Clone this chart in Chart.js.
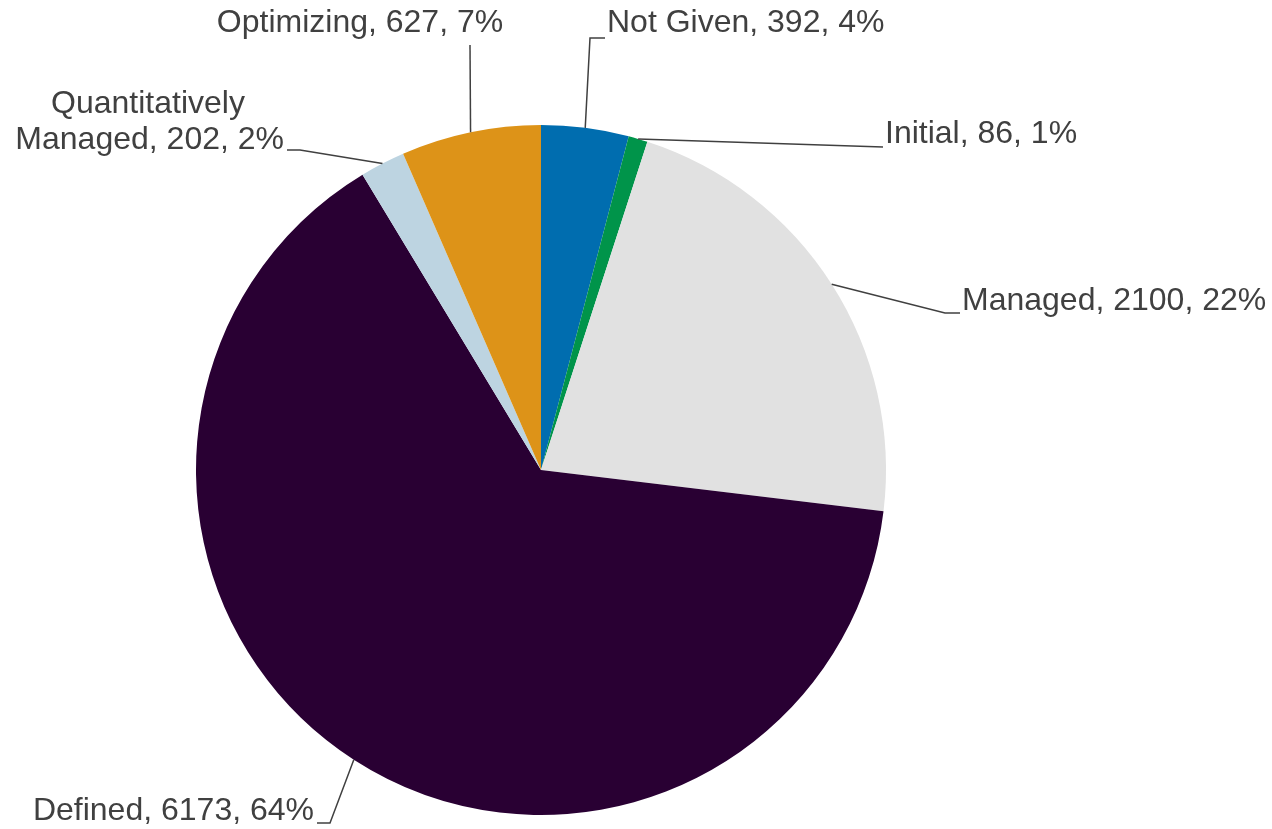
<!DOCTYPE html>
<html>
<head>
<meta charset="utf-8">
<script src="https://cdn.jsdelivr.net/npm/chart.js@4/dist/chart.umd.min.js"></script>
<style>
html,body{margin:0;padding:0;background:#fff;}
#wrap{width:1272px;height:829px;position:relative;}
</style>
</head>
<body>
<div id="wrap"><canvas id="c" width="1272" height="829"></canvas></div>
<script>
const categories = ["Not Given", "Initial", "Managed", "Defined", "Quantitatively Managed", "Optimizing"];
const values = [392, 86, 2100, 6173, 202, 627];
const percents = ["4%", "1%", "22%", "64%", "2%", "7%"];
const colors = ["#006DAF", "#00944A", "#E1E1E1", "#290033", "#BDD4E1", "#DD9318"];

// Label layout (annotation placement only)
const labelLayout = [
  {lines:["Not Given, 392, 4%"], x:607, y:23, align:"left", elbow:[590,38], end:[605,38]},
  {lines:["Initial, 86, 1%"], x:885, y:134, align:"left", elbow:null, end:[883,147]},
  {lines:["Managed, 2100, 22%"], x:962, y:301, align:"left", elbow:[945,313], end:[960,313]},
  {lines:["Defined, 6173, 64%"], x:314, y:811, align:"right", elbow:[330,823], end:[317,823]},
  {lines:["Quantitatively", "Managed, 202, 2%"], x:284, y:104, lineH:36, align:"right", qm:true, elbow:[300,150], end:[287,150]},
  {lines:["Optimizing, 627, 7%"], x:360, y:23, align:"center", elbow:null, end:[470,45]}
];

const labelPlugin = {
  id: 'leaderLabels',
  afterDatasetsDraw(chart) {
    const ctx = chart.ctx;
    const meta = chart.getDatasetMeta(0);
    ctx.save();
    ctx.font = '32px "Liberation Sans", Arial, sans-serif';
    ctx.fillStyle = '#404040';
    ctx.strokeStyle = '#404040';
    ctx.lineWidth = 1.5;
    meta.data.forEach((arc, i) => {
      const L = labelLayout[i];
      const mid = (arc.startAngle + arc.endAngle) / 2;
      const ax = arc.x + Math.cos(mid) * arc.outerRadius;
      const ay = arc.y + Math.sin(mid) * arc.outerRadius;
      ctx.beginPath();
      ctx.moveTo(ax, ay);
      if (L.elbow) ctx.lineTo(L.elbow[0], L.elbow[1]);
      ctx.lineTo(L.end[0], L.end[1]);
      ctx.stroke();
      ctx.textBaseline = 'middle';
      if (L.qm) {
        ctx.textAlign = 'center';
        ctx.fillText(L.lines[0], 148, L.y);
        ctx.textAlign = 'right';
        ctx.fillText(L.lines[1], L.x, L.y + L.lineH);
      } else {
        ctx.textAlign = L.align;
        L.lines.forEach((t, k) => ctx.fillText(t, L.x, L.y + k * 36));
      }
    });
    ctx.restore();
  }
};

new Chart(document.getElementById('c'), {
  type: 'pie',
  data: {
    labels: categories,
    datasets: [{ data: values, backgroundColor: colors, borderWidth: 0 }]
  },
  options: {
    responsive: false,
    animation: false,
    layout: { padding: { top: 125, bottom: 14, left: 0, right: 190 } },
    plugins: { legend: { display: false }, tooltip: { enabled: false } }
  },
  plugins: [labelPlugin]
});
</script>
</body>
</html>
